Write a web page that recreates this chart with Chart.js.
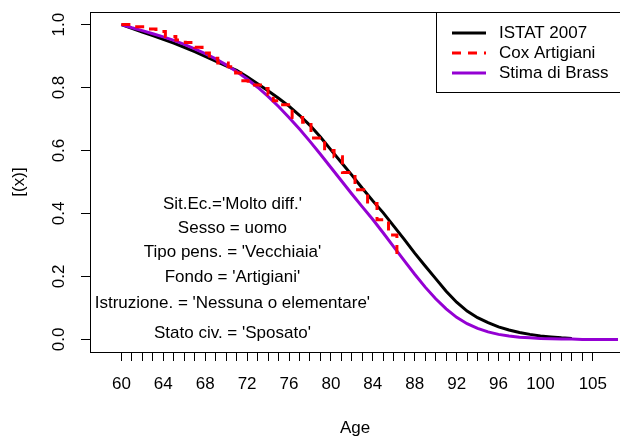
<!DOCTYPE html>
<html>
<head>
<meta charset="utf-8">
<script src="https://cdn.jsdelivr.net/npm/chart.js@4.4.1/dist/chart.umd.min.js"></script>
<style>
  html, body { margin: 0; padding: 0; background: #fff; }
  #wrap { width: 620px; height: 437px; position: relative; }
</style>
</head>
<body>
<div id="wrap"><canvas id="survivalChart"></canvas></div>
<script>
// ages and survival values
const ages = [60, 61, 62, 63, 64, 65, 66, 67, 68, 69, 70, 71, 72, 73, 74, 75, 76, 77, 78, 79,
  80, 81, 82, 83, 84, 85, 86, 87, 88, 89, 90, 91, 92, 93, 94, 95, 96, 97, 98, 99,
  100, 101, 102, 103, 104, 105, 106, 107, 108]

const istat2007 = [1.0, 0.988, 0.976, 0.965, 0.953, 0.941, 0.928, 0.914, 0.899, 0.884,
  0.869, 0.855, 0.834, 0.812, 0.79, 0.766, 0.741, 0.712, 0.68, 0.643,
  0.602, 0.562, 0.522, 0.48, 0.44, 0.402, 0.36, 0.318, 0.274, 0.233,
  0.193, 0.153, 0.118, 0.09, 0.069, 0.053, 0.04, 0.03, 0.022, 0.016,
  0.011, 0.008, 0.005, 0.003]

const stimaBrass = [1.0, 0.99, 0.981, 0.971, 0.961, 0.95, 0.937, 0.923, 0.908, 0.891,
  0.872, 0.851, 0.827, 0.801, 0.772, 0.74, 0.705, 0.668, 0.629, 0.588,
  0.546, 0.504, 0.462, 0.421, 0.381, 0.338, 0.294, 0.25, 0.207, 0.166,
  0.129, 0.097, 0.07, 0.05, 0.035, 0.024, 0.016, 0.011, 0.007, 0.005,
  0.003, 0.002, 0.001, 0.001, 0, 0, 0, 0, 0]

// Cox step curve: ages where the step drops and the new level
const coxAges = [60, 61.2, 62.2, 63.3, 64.2, 65.2, 66.1, 67.0, 67.7, 68.4, 69.2, 70.2, 70.9,
  71.4, 72.1, 73.6, 74.0, 74.5, 75.2, 76.3, 77.3, 78.1, 79.4, 80.3, 81.1,
  82.3, 83.5, 84.4, 85.5, 86.3]
const coxValues = [1.0, 0.993, 0.986, 0.978, 0.962, 0.951, 0.943, 0.928, 0.91, 0.893, 0.878,
  0.866, 0.846, 0.822, 0.808, 0.797, 0.778, 0.758, 0.745, 0.705, 0.69,
  0.64, 0.6, 0.58, 0.53, 0.475, 0.432, 0.38, 0.332, 0.26]

const xTickAges = []
for (let a = 60; a <= 105; a++) xTickAges.push(a)
const xTickLabels = [60, 64, 68, 72, 76, 80, 84, 88, 92, 96, 100, 105]
const yTicks = [0, 0.2, 0.4, 0.6, 0.8, 1.0]
const yTickLabels = ['0.0', '0.2', '0.4', '0.6', '0.8', '1.0']

const seriesNames = ['ISTAT 2007', 'Cox Artigiani', 'Stima di Brass']
const noteLines = [
  "Sit.Ec.='Molto diff.'",
  'Sesso = uomo',
  "Tipo pens. = 'Vecchiaia'",
  "Fondo = 'Artigiani'",
  "Istruzione. = 'Nessuna o elementare'",
  "Stato civ. = 'Sposato'"
]
const noteLevels = [0.43, 0.352, 0.278, 0.197, 0.114, 0.019]

const FONT = "17px 'Liberation Sans', Arial, sans-serif"
const PURPLE = '#9400D3'

function toPoints(xs, ys) {
  return ys.map((y, i) => ({ x: xs[i], y: y }))
}

// draws the R-style box, rotated y labels, titles, legend and notes
const basePlotDecor = {
  id: 'basePlotDecor',
  afterDraw(chart) {
    const { ctx, chartArea, scales } = chart
    const xs = scales.x
    const ys = scales.y
    ctx.save()
    ctx.strokeStyle = '#000'
    ctx.lineWidth = 1
    ctx.strokeRect(chartArea.left - 0.5, chartArea.top + 0.5, 700, chartArea.bottom - chartArea.top)

    ctx.fillStyle = '#000'
    ctx.font = FONT
    ctx.textAlign = 'center'
    ctx.textBaseline = 'middle'

    // y tick labels, rotated like R's las=0
    yTicks.forEach((v, i) => {
      ctx.save()
      ctx.translate(59, ys.getPixelForValue(v))
      ctx.rotate(-Math.PI / 2)
      ctx.fillText(yTickLabels[i], 0, 0)
      ctx.restore()
    })

    // axis titles
    ctx.fillText('Age', 355, 428)
    ctx.save()
    ctx.translate(19, (chartArea.top + chartArea.bottom) / 2)
    ctx.rotate(-Math.PI / 2)
    ctx.fillText('[(x)]', 0, 0)
    ctx.restore()

    // annotation block
    noteLines.forEach((txt, i) => {
      ctx.fillText(txt, xs.getPixelForValue(70.6), ys.getPixelForValue(noteLevels[i]))
    })

    // legend
    ctx.strokeRect(436.5, chartArea.top + 0.5, 300, 80)
    const colors = ['#000', '#FF0000', PURPLE]
    const dashes = [[], [9, 7], []]
    ctx.textAlign = 'left'
    seriesNames.forEach((name, i) => {
      const y = 33 + i * 20
      ctx.beginPath()
      ctx.setLineDash(dashes[i])
      ctx.strokeStyle = colors[i]
      ctx.lineWidth = 3
      ctx.moveTo(452, y)
      ctx.lineTo(486, y)
      ctx.stroke()
      ctx.setLineDash([])
      ctx.fillText(name, 499, y)
    })
    ctx.restore()
  }
}

new Chart(document.getElementById('survivalChart'), {
  type: 'line',
  data: {
    datasets: [
      {
        label: seriesNames[1],
        data: toPoints(coxAges, coxValues),
        borderColor: '#FF0000',
        borderWidth: 3,
        borderDash: [9, 7],
        stepped: 'before',
        pointRadius: 0,
        order: 0
      },
      {
        label: seriesNames[2],
        data: toPoints(ages, stimaBrass),
        borderColor: PURPLE,
        borderWidth: 3,
        pointRadius: 0,
        tension: 0,
        order: 1
      },
      {
        label: seriesNames[0],
        data: toPoints(ages, istat2007),
        borderColor: '#000',
        borderWidth: 3,
        pointRadius: 0,
        tension: 0,
        order: 2
      }
    ]
  },
  options: {
    responsive: true,
    maintainAspectRatio: false,
    animation: false,
    layout: { padding: { top: 12, right: 0, left: 0, bottom: 0 } },
    plugins: {
      legend: { display: false },
      tooltip: { enabled: false },
      title: { display: false }
    },
    scales: {
      x: {
        type: 'linear',
        min: 57.1,
        max: 107.4,
        afterBuildTicks: (scale) => {
          scale.ticks = xTickAges.map((v) => ({ value: v }))
        },
        afterFit: (scale) => {
          scale.height = 85
        },
        border: { display: false },
        grid: {
          display: true,
          drawOnChartArea: false,
          drawTicks: true,
          tickLength: 9,
          color: '#000'
        },
        ticks: {
          autoSkip: false,
          maxRotation: 0,
          minRotation: 0,
          padding: 13,
          color: '#000',
          font: { family: "'Liberation Sans', Arial, sans-serif", size: 17 },
          callback: function (value) {
            return xTickLabels.includes(value) ? String(value) : ''
          }
        }
      },
      y: {
        type: 'linear',
        min: -0.04,
        max: 1.04,
        afterBuildTicks: (scale) => {
          scale.ticks = yTicks.map((v) => ({ value: v }))
        },
        afterFit: (scale) => {
          scale.width = 91
        },
        border: { display: false },
        grid: {
          display: true,
          drawOnChartArea: false,
          drawTicks: true,
          tickLength: 10,
          color: '#000'
        },
        ticks: { display: false }
      }
    }
  },
  plugins: [basePlotDecor]
})
</script>
</body>
</html>
